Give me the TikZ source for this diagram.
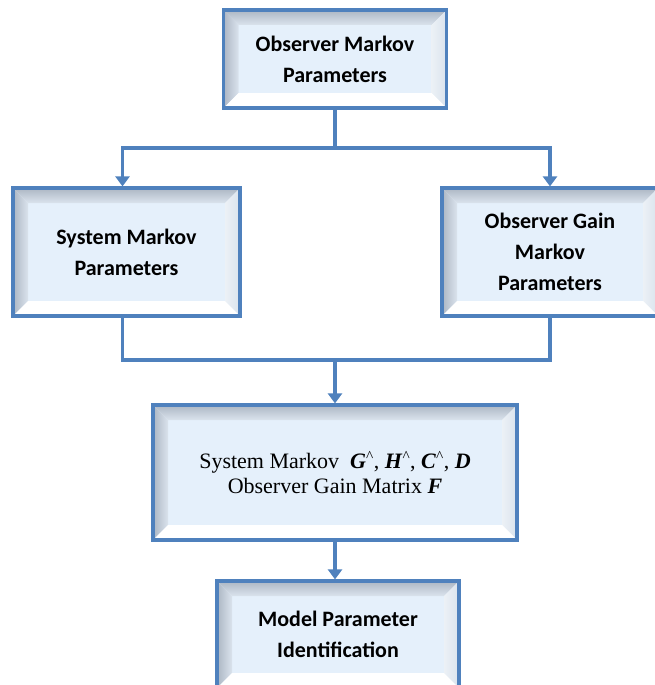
\documentclass[tikz,border=0pt]{standalone}
\usepackage{fontspec}
\setmainfont{Carlito}
\newfontfamily\timesfont{Liberation Serif}
\usetikzlibrary{arrows.meta,calc}
\definecolor{lineblue}{RGB}{79,129,189}
\definecolor{face}{RGB}{229,240,251}
\definecolor{bevdark}{RGB}{172,182,195}
\definecolor{bevmid}{RGB}{218,227,237}
\definecolor{bevlight}{RGB}{236,241,246}
\tikzset{
  bevel/.style={draw=lineblue, line width=3.2pt, fill=face, inner sep=0pt, align=center,
    font=\bfseries\fontsize{22}{31}\selectfont,
    path picture={
      \path (path picture bounding box.south west) coordinate (sw)
            (path picture bounding box.north east) coordinate (ne);
      \shade[top color=bevdark, bottom color=bevmid]
        (sw|-ne) -- (ne) -- ($(ne)+(-15pt,-15pt)$) -- ($(sw|-ne)+(15pt,-15pt)$) -- cycle;
      \shade[left color=bevdark, right color=bevmid]
        (sw) -- (sw|-ne) -- ($(sw|-ne)+(15pt,-15pt)$) -- ($(sw)+(15pt,15pt)$) -- cycle;
      \shade[left color=bevlight, right color=bevmid]
        (ne) -- (ne|-sw) -- ($(ne|-sw)+(-15pt,15pt)$) -- ($(ne)+(-15pt,-15pt)$) -- cycle;
      \fill[white]
        (sw) -- (ne|-sw) -- ($(ne|-sw)+(-15pt,15pt)$) -- ($(sw)+(15pt,15pt)$) -- cycle;
    }},
  conn/.style={draw=lineblue, line width=3.4pt},
  arr/.style={conn, -{Triangle[width=14pt,length=10pt]}}
}
\begin{document}
\begin{tikzpicture}[x=1pt,y=1pt]
\useasboundingbox (0,0) rectangle (655,-685);
\node[bevel, minimum width=223pt, minimum height=98pt] (top) at (335,-59) {Observer Markov\\Parameters};
\node[bevel, minimum width=227pt, minimum height=128pt] (left) at (126.5,-252) {System Markov\\Parameters};
\node[bevel, minimum width=216pt, minimum height=128pt] (right) at (550,-252) {Observer Gain\\Markov\\Parameters};
\node[bevel, minimum width=364pt, minimum height=135pt, font=\timesfont\fontsize{22}{25}\selectfont] (mid) at (335,-472.5)
  {System Markov\ \ \textbf{\textit{G}}\textsuperscript{\textasciicircum}, \textbf{\textit{H}}\textsuperscript{\textasciicircum}, \textbf{\textit{C}}\textsuperscript{\textasciicircum}, \textbf{\textit{D}}\\Observer Gain Matrix \textbf{\textit{F}}};
\node[bevel, minimum width=242pt, minimum height=107pt] (bot) at (338,-634.5) {Model Parameter\\Identification};
\coordinate (j1) at (335,-148);
\coordinate (j2) at (335,-360);
\draw[conn] (top.south) -- (j1);
\draw[arr] (j1) -| ([xshift=-4pt]left.north);
\draw[arr] (j1) -| (right.north);
\draw[conn] ([xshift=-4pt]left.south) |- (j2) -| (right.south);
\draw[arr] (j2) -- (mid.north);
\draw[arr] (mid.south) -- (mid.south |- bot.north);
\end{tikzpicture}
\end{document}
